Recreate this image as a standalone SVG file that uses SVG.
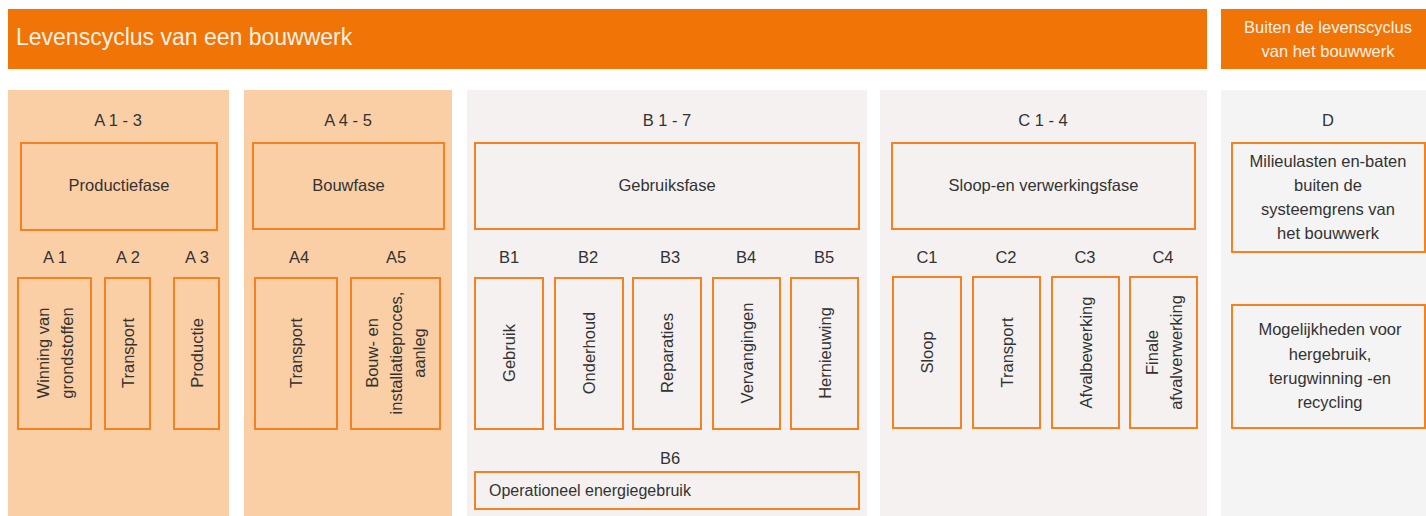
<svg xmlns="http://www.w3.org/2000/svg" width="1426" height="516" viewBox="0 0 1426 516">
<style>
.bar{fill:#f07406}
.barTxt{fill:#fdf1e7;font-family:"Liberation Sans",Arial,sans-serif}
.pA{fill:#fbcfa6}
.pB{fill:#f4f1f0}
.pD{fill:#f4f4f4}
.box{fill:none;stroke:#f58220;stroke-width:2}
.t{fill:#333333;font-family:"Liberation Sans",Arial,sans-serif;font-size:16.5px;text-anchor:middle}
.tl{fill:#333333;font-family:"Liberation Sans",Arial,sans-serif;font-size:16px}
</style>
<rect width="1426" height="516" fill="#ffffff"/>

<g id="header-main">
<rect class="bar" x="8" y="9" width="1199" height="60"/>
<text class="barTxt" x="16" y="45" font-size="23">Levenscyclus van een bouwwerk</text>
</g>
<g id="header-outside">
<rect class="bar" x="1221" y="9" width="205" height="60"/>
<text class="barTxt" x="1328" y="33" font-size="16.5" text-anchor="middle">Buiten de levenscyclus</text>
<text class="barTxt" x="1328" y="57" font-size="16.5" text-anchor="middle">van het bouwwerk</text>
</g>

<g id="panel-A13">
<rect class="pA" x="8" y="90" width="221" height="426"/>
<text class="t" x="118" y="126">A 1 - 3</text>
<g id="productiefase"><rect class="box" x="21" y="143" width="196" height="87"/><text class="t" x="119" y="191">Productiefase</text></g>
<text class="t" x="55" y="263">A 1</text>
<text class="t" x="128" y="263">A 2</text>
<text class="t" x="197" y="263">A 3</text>
<g id="A1"><rect class="box" x="18" y="278" width="73" height="151"/>
<text class="t" transform="translate(54.5,353) rotate(-90)"><tspan x="0" y="-5.5">Winning van</tspan><tspan x="0" y="18">grondstoffen</tspan></text></g>
<g id="A2"><rect class="box" x="105" y="278" width="45" height="151"/>
<text class="t" transform="translate(127.5,353) rotate(-90)" y="6">Transport</text></g>
<g id="A3"><rect class="box" x="174" y="278" width="45" height="151"/>
<text class="t" transform="translate(196.5,353) rotate(-90)" y="6">Productie</text></g>
</g>

<g id="panel-A45">
<rect class="pA" x="244" y="90" width="208" height="426"/>
<text class="t" x="348" y="126">A 4 - 5</text>
<g id="bouwfase"><rect class="box" x="253" y="143" width="191" height="86"/><text class="t" x="348.5" y="191">Bouwfase</text></g>
<text class="t" x="299" y="263">A4</text>
<text class="t" x="396" y="263">A5</text>
<g id="A4"><rect class="box" x="255" y="278" width="82" height="151"/>
<text class="t" transform="translate(296,353) rotate(-90)" y="6">Transport</text></g>
<g id="A5"><rect class="box" x="351" y="278" width="89" height="151"/>
<text class="t" transform="translate(395.5,353) rotate(-90)"><tspan x="0" y="-17.5">Bouw- en</tspan><tspan x="0" y="6">installatieproces,</tspan><tspan x="0" y="29.5">aanleg</tspan></text></g>
</g>

<g id="panel-B17">
<rect class="pB" x="467" y="90" width="400" height="426"/>
<text class="t" x="667" y="126">B 1 - 7</text>
<g id="gebruiksfase"><rect class="box" x="475" y="143" width="384" height="86"/><text class="t" x="667" y="191">Gebruiksfase</text></g>
<text class="t" x="509" y="263">B1</text>
<text class="t" x="588" y="263">B2</text>
<text class="t" x="670" y="263">B3</text>
<text class="t" x="746" y="263">B4</text>
<text class="t" x="824" y="263">B5</text>
<g id="B1"><rect class="box" x="475" y="278" width="68" height="151"/>
<text class="t" transform="translate(509,353) rotate(-90)" y="6">Gebruik</text></g>
<g id="B2"><rect class="box" x="555" y="278" width="68" height="151"/>
<text class="t" transform="translate(589,353) rotate(-90)" y="6">Onderhoud</text></g>
<g id="B3"><rect class="box" x="633" y="278" width="68" height="151"/>
<text class="t" transform="translate(667,353) rotate(-90)" y="6">Reparaties</text></g>
<g id="B4"><rect class="box" x="713" y="278" width="67" height="151"/>
<text class="t" transform="translate(746.5,353) rotate(-90)" y="6">Vervangingen</text></g>
<g id="B5"><rect class="box" x="791" y="278" width="67" height="151"/>
<text class="t" transform="translate(824.5,353) rotate(-90)" y="6">Hernieuwing</text></g>
<text class="t" x="670" y="464">B6</text>
<g id="B6"><rect class="box" x="475" y="472" width="384" height="37"/>
<text class="tl" x="489" y="496">Operationeel energiegebruik</text></g>
</g>

<g id="panel-C14">
<rect class="pB" x="880" y="90" width="327" height="426"/>
<text class="t" x="1043" y="126">C 1 - 4</text>
<g id="sloopfase"><rect class="box" x="892" y="143" width="303" height="86"/><text class="t" x="1043.5" y="191">Sloop-en verwerkingsfase</text></g>
<text class="t" x="927" y="263">C1</text>
<text class="t" x="1006" y="263">C2</text>
<text class="t" x="1085" y="263">C3</text>
<text class="t" x="1163" y="263">C4</text>
<g id="C1"><rect class="box" x="893" y="277" width="68" height="151"/>
<text class="t" transform="translate(927,352.5) rotate(-90)" y="6">Sloop</text></g>
<g id="C2"><rect class="box" x="973" y="277" width="67" height="151"/>
<text class="t" transform="translate(1006.5,352.5) rotate(-90)" y="6">Transport</text></g>
<g id="C3"><rect class="box" x="1052" y="277" width="67" height="151"/>
<text class="t" transform="translate(1085.5,352.5) rotate(-90)" y="6">Afvalbewerking</text></g>
<g id="C4"><rect class="box" x="1130" y="277" width="67" height="151"/>
<text class="t" transform="translate(1163.5,352.5) rotate(-90)"><tspan x="0" y="-5.5">Finale</tspan><tspan x="0" y="18">afvalverwerking</tspan></text></g>
</g>

<g id="panel-D">
<rect class="pD" x="1221" y="90" width="205" height="426"/>
<text class="t" x="1328" y="126">D</text>
<g id="D-milieulasten"><rect class="box" x="1232" y="143" width="193" height="109"/>
<text class="t" x="1328" y="167">Milieulasten en-baten</text>
<text class="t" x="1328" y="191">buiten de</text>
<text class="t" x="1328" y="215">systeemgrens van</text>
<text class="t" x="1328" y="239">het bouwwerk</text></g>
<g id="D-hergebruik"><rect class="box" x="1232" y="305" width="193" height="123"/>
<text class="t" x="1330" y="335">Mogelijkheden voor</text>
<text class="t" x="1330" y="359.5">hergebruik,</text>
<text class="t" x="1330" y="384">terugwinning -en</text>
<text class="t" x="1330" y="408">recycling</text></g>
</g>

<g id="connectors"></g>
</svg>
